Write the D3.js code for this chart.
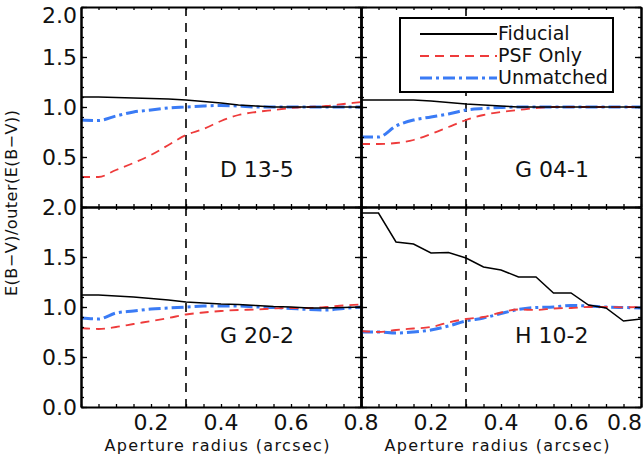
<!DOCTYPE html>
<html>
<head>
<meta charset="utf-8">
<script src="https://cdn.jsdelivr.net/npm/d3@7"></script>
<style>
  body { margin: 0; background: white; }
  text { font-family: "DejaVu Sans", sans-serif; fill: #111; }
</style>
</head>
<body>
<svg width="644" height="461"></svg>
<script>
// aperture radius sampling (arcsec)
const radius = [0, 0.05, 0.1, 0.15, 0.2, 0.25, 0.3, 0.35, 0.4, 0.45, 0.5, 0.55, 0.6, 0.65, 0.7, 0.75, 0.8];

const panelNames = ["D 13-5", "G 04-1", "G 20-2", "H 10-2"];

const fiducial = [
    [1.10, 1.10, 1.095, 1.09, 1.085, 1.08, 1.07, 1.055, 1.04, 1.02, 1.01, 1.0, 1.0, 1.0, 1.0, 1.0, 1.0],
    [1.07, 1.07, 1.07, 1.07, 1.06, 1.045, 1.03, 1.02, 1.01, 1.0, 1.0, 1.0, 1.0, 1.0, 1.0, 1.0, 1.0],
    [1.12, 1.12, 1.11, 1.10, 1.085, 1.07, 1.05, 1.04, 1.03, 1.025, 1.015, 1.005, 1.0, 0.99, 0.99, 0.995, 1.0],
    [1.94, 1.94, 1.65, 1.63, 1.54, 1.545, 1.49, 1.40, 1.37, 1.30, 1.30, 1.14, 1.14, 1.02, 0.99, 0.86, 0.88]
];

const psfOnly = [
    [0.30, 0.30, 0.37, 0.44, 0.52, 0.62, 0.72, 0.78, 0.86, 0.92, 0.95, 0.97, 0.99, 1.0, 1.01, 1.03, 1.05],
    [0.63, 0.63, 0.64, 0.67, 0.73, 0.80, 0.87, 0.92, 0.95, 0.97, 0.99, 1.0, 1.0, 1.0, 1.0, 1.0, 1.0],
    [0.79, 0.78, 0.80, 0.83, 0.86, 0.89, 0.925, 0.945, 0.96, 0.97, 0.975, 0.985, 0.99, 0.99, 1.0, 1.015, 1.025],
    [0.76, 0.75, 0.77, 0.785, 0.80, 0.845, 0.88, 0.90, 0.945, 0.975, 0.97, 0.985, 0.99, 1.0, 1.0, 0.997, 1.0]
];

const unmatched = [
    [0.87, 0.865, 0.91, 0.95, 0.97, 0.99, 1.0, 1.01, 1.015, 1.01, 1.0, 1.0, 1.0, 1.0, 1.0, 1.0, 1.0],
    [0.70, 0.70, 0.81, 0.87, 0.90, 0.93, 0.97, 0.985, 0.995, 1.0, 1.0, 1.0, 1.0, 1.0, 1.0, 1.0, 1.0],
    [0.89, 0.88, 0.94, 0.96, 0.98, 0.99, 1.0, 1.01, 1.01, 1.01, 1.0, 0.995, 0.985, 0.975, 0.97, 0.985, 1.0],
    [0.75, 0.75, 0.74, 0.75, 0.77, 0.81, 0.86, 0.89, 0.935, 0.975, 0.995, 1.0, 1.015, 1.01, 1.0, 0.995, 0.99]
];

// where the panel name sits, in data units
const labelX = [0.397, 0.44, 0.397, 0.44];
const labelY = [0.30, 0.30, 0.64, 0.64];

const apertureCut = 0.3;

const xTickLabels = [0.2, 0.4, 0.6, 0.8];
const yTickLabels = [0, 0.5, 1.0, 1.5, 2.0];

const seriesNames = ["Fiducial", "PSF Only", "Unmatched"];

const styles = [
    { color: "#000", width: 1.5, dash: null, curve: d3.curveLinear },
    { color: "#ee3b3b", width: 1.8, dash: "9,6", curve: d3.curveMonotoneX },
    { color: "#3a7bf5", width: 3, dash: "12,4,3,4", curve: d3.curveMonotoneX }
];

const svg = d3.select("svg");
const panelW = 280, panelH = 200;
const left0 = 81, top0 = 7;

function panel(i) {
    const col = i % 2, row = Math.floor(i / 2);
    const x0 = left0 + col * panelW, y0 = top0 + row * panelH;

    const x = d3.scaleLinear().domain([0, 0.8]).range([x0, x0 + panelW]);
    const y = d3.scaleLinear().domain([0, 2]).range([y0 + panelH, y0]);

    const g = svg.append("g");

    g.append("clipPath").attr("id", "clip" + i)
     .append("rect").attr("x", x0).attr("y", y0).attr("width", panelW).attr("height", panelH);

    // vertical dashed line at 0.3"
    g.append("line")
     .attr("x1", x(apertureCut)).attr("x2", x(apertureCut))
     .attr("y1", y(2)).attr("y2", y(0))
     .attr("stroke", "#000").attr("stroke-width", 1.6).attr("stroke-dasharray", "9,7");

    const sets = [fiducial[i], psfOnly[i], unmatched[i]];
    const lines = g.append("g").attr("clip-path", "url(#clip" + i + ")");
    [2, 1, 0].forEach(k => {
        const line = d3.line().x((d, j) => x(radius[j])).y(d => y(d)).curve(styles[k].curve);
        lines.append("path")
             .attr("d", line(sets[k]))
             .attr("fill", "none")
             .attr("stroke", styles[k].color)
             .attr("stroke-width", styles[k].width)
             .attr("stroke-dasharray", styles[k].dash);
    });

    // inward ticks on all four sides
    const xMinor = d3.range(0, 0.8001, 0.05);
    const yMinor = d3.range(0, 2.0001, 0.1);
    const yMajor = yTickLabels;
    const ax = [
        [d3.axisBottom(x).tickValues(xMinor).tickSize(-3), y0 + panelH, "y"],
        [d3.axisTop(x).tickValues(xMinor).tickSize(-3), y0, "y"],
        [d3.axisLeft(y).tickValues(yMinor).tickSize(-3), x0, "x"],
        [d3.axisLeft(y).tickValues(yMajor).tickSize(-6), x0, "x"],
        [d3.axisRight(y).tickValues(yMinor).tickSize(-3), x0 + panelW, "x"],
        [d3.axisRight(y).tickValues(yMajor).tickSize(-6), x0 + panelW, "x"]
    ];
    ax.forEach(a => {
        const t = a[2] === "y" ? "translate(0," + a[1] + ")" : "translate(" + a[1] + ",0)";
        const s = g.append("g").attr("transform", t)
                   .call(a[0].tickSizeOuter(0).tickFormat(""));
        s.select(".domain").attr("stroke-width", 2);
        s.selectAll(".tick line").attr("stroke-width", 1.3);
    });

    g.append("text")
     .attr("x", x(labelX[i])).attr("y", y(labelY[i]))
     .attr("font-size", 22)
     .text(panelNames[i]);

    // tick labels along the outside edges
    if (col === 0) {
        yTickLabels.forEach(v => {
            if (row === 0 && v === 0) return;
            let by = y(v) + 8;
            if (row === 0 && v === 2) by = y(v) + 16;
            g.append("text").attr("x", x0 - 4).attr("y", by)
             .attr("text-anchor", "end").attr("font-size", 22)
             .text(d3.format(".1f")(v));
        });
    }
    if (row === 1) {
        xTickLabels.forEach(v => {
            if (col === 1 && v === 0.8) {
                g.append("text").attr("x", x(v) + 1).attr("y", 430)
                 .attr("text-anchor", "end").attr("font-size", 22).text("0.8");
                return;
            }
            g.append("text").attr("x", x(v)).attr("y", 430)
             .attr("text-anchor", "middle").attr("font-size", 22)
             .text(d3.format(".1f")(v));
        });
        g.append("text")
         .attr("x", x0 + panelW / 2 - 4).attr("y", 451)
         .attr("text-anchor", "middle").attr("font-size", 16)
         .attr("textLength", 225).attr("lengthAdjust", "spacing")
         .text("Aperture radius (arcsec)");
    }
}

d3.range(4).forEach(panel);

// y axis title
svg.append("text")
   .attr("transform", "translate(17,203) rotate(-90)")
   .attr("text-anchor", "middle").attr("font-size", 16)
   .attr("textLength", 186).attr("lengthAdjust", "spacing")
   .text("E(B\u2212V)/outer(E(B\u2212V))");

// legend
const leg = svg.append("g");
leg.append("rect")
   .attr("x", 400).attr("y", 18).attr("width", 213).attr("height", 74)
   .attr("fill", "white").attr("stroke", "#000").attr("stroke-width", 2);

seriesNames.forEach((name, k) => {
    const by = 40 + k * 22;
    leg.append("line")
       .attr("x1", 420).attr("x2", 497).attr("y1", by - 6).attr("y2", by - 6)
       .attr("stroke", styles[k].color)
       .attr("stroke-width", k === 0 ? 2 : styles[k].width)
       .attr("stroke-dasharray", styles[k].dash);
    leg.append("text")
       .attr("x", 498).attr("y", by)
       .attr("font-size", 19)
       .text(name);
});
</script>
</body>
</html>
